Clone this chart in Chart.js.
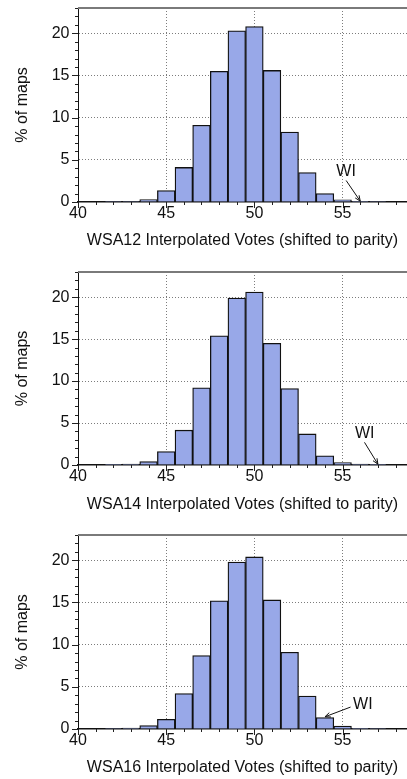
<!DOCTYPE html>
<html>
<head>
<meta charset="utf-8">
<script src="https://cdn.jsdelivr.net/npm/chart.js@4/dist/chart.umd.min.js"></script>
<style>
html,body{margin:0;padding:0;background:#fff;overflow:hidden;width:407px;height:779px;}
.p{position:absolute;left:0;width:407px;height:264px;}
</style>
</head>
<body>
<div class="p" style="top:0px"><canvas id="c1" width="407" height="264"></canvas></div>
<div class="p" style="top:264px"><canvas id="c2" width="407" height="264"></canvas></div>
<div class="p" style="top:527px"><canvas id="c3" width="407" height="264"></canvas></div>
<script>
// ---- data ----
const binCenters = [42, 43, 44, 45, 46, 47, 48, 49, 50, 51, 52, 53, 54, 55, 56, 57];
const wsa12 = [0.05, 0.05, 0.3, 1.35, 4.1, 9.1, 15.5, 20.3, 20.8, 15.6, 8.3, 3.5, 1.0, 0.25, 0.08, 0.05];
const wsa14 = [0.03, 0.1, 0.4, 1.6, 4.15, 9.2, 15.4, 19.9, 20.6, 14.5, 9.1, 3.7, 1.1, 0.3, 0.1, 0.03];
const wsa16 = [0.05, 0.1, 0.4, 1.15, 4.2, 8.7, 15.2, 19.8, 20.4, 15.3, 9.1, 3.9, 1.35, 0.35, 0.08, 0.05];
const xTickValues = [40, 45, 50, 55];
const yTickValues = [0, 5, 10, 15, 20];
const xTitles = [
  'WSA12 Interpolated Votes (shifted to parity)',
  'WSA14 Interpolated Votes (shifted to parity)',
  'WSA16 Interpolated Votes (shifted to parity)'
];
const yTitle = '% of maps';
const wiLabel = 'WI';
const wiTextAt = [[55.2, 3.6], [56.25, 3.7], [56.15, 2.85]];
const wiArrowFrom = [[55.2, 2.55], [56.24, 2.7], [55.45, 2.6]];
const wiArrowTo = [[56.0, 0.1], [57.0, 0.1], [54.0, 1.45]];

// ---- style / layout ----
const FONT = '"Liberation Sans", Arial, Helvetica, sans-serif';
const TXT = '#111';
const xAxisHeights = [62, 63, 62];

const decor = {
  id: 'decor',
  afterDraw(chart, args, opts) {
    const {ctx, chartArea: a, scales: {x, y}} = chart;
    ctx.save();
    // top frame line
    ctx.strokeStyle = '#7a7a7a';
    ctx.lineWidth = 2;
    ctx.beginPath();
    ctx.moveTo(a.left, a.top);
    ctx.lineTo(a.right, a.top);
    ctx.stroke();
    // major/minor ticks
    ctx.strokeStyle = '#222';
    ctx.lineWidth = 1;
    ctx.beginPath();
    for (let v = Math.ceil(x.min); v <= x.max; v += 1) {
      const px = Math.round(x.getPixelForValue(v)) + 0.5;
      const len = (v % 5 === 0) ? 6 : 3;
      ctx.moveTo(px, a.bottom);
      ctx.lineTo(px, a.bottom + len);
    }
    for (let v = 0; v <= y.max; v += 1) {
      const py = Math.round(y.getPixelForValue(v)) + 0.5;
      const len = (v % 5 === 0) ? 6 : 3;
      ctx.moveTo(a.left, py);
      ctx.lineTo(a.left - len, py);
    }
    ctx.stroke();
    // annotation
    const i = opts.idx;
    ctx.fillStyle = TXT;
    ctx.font = '16px ' + FONT;
    ctx.textAlign = 'center';
    ctx.textBaseline = 'middle';
    ctx.fillText(wiLabel, x.getPixelForValue(wiTextAt[i][0]), y.getPixelForValue(wiTextAt[i][1]));
    const x1 = x.getPixelForValue(wiArrowFrom[i][0]), y1 = y.getPixelForValue(wiArrowFrom[i][1]);
    const x2 = x.getPixelForValue(wiArrowTo[i][0]), y2 = y.getPixelForValue(wiArrowTo[i][1]);
    ctx.strokeStyle = '#111';
    ctx.lineWidth = 1;
    ctx.beginPath();
    ctx.moveTo(x1, y1);
    ctx.lineTo(x2, y2);
    ctx.stroke();
    const ang = Math.atan2(y2 - y1, x2 - x1);
    const hl = 6, hw = 0.4;
    ctx.beginPath();
    ctx.moveTo(x2, y2);
    ctx.lineTo(x2 - hl * Math.cos(ang - hw), y2 - hl * Math.sin(ang - hw));
    ctx.moveTo(x2, y2);
    ctx.lineTo(x2 - hl * Math.cos(ang + hw), y2 - hl * Math.sin(ang + hw));
    ctx.stroke();
    ctx.restore();
  }
};

function makeChart(id, values, idx) {
  const gridColor = c => (c.tick && c.tick.value !== 0 && c.tick.value !== 40) ? '#7c7c7c' : 'rgba(0,0,0,0)';
  return new Chart(document.getElementById(id), {
    type: 'bar',
    data: {
      datasets: [{
        data: binCenters.map((b, i) => ({x: b, y: values[i]})),
        backgroundColor: 'rgb(152,168,232)',
        borderColor: '#111',
        borderWidth: 1.3,
        barPercentage: 1,
        categoryPercentage: 1
      }]
    },
    plugins: [decor],
    options: {
      responsive: false,
      animation: false,
      devicePixelRatio: 1,
      layout: {padding: {top: 8, left: 0, right: 0, bottom: 0}},
      plugins: {legend: {display: false}, tooltip: {enabled: false}, decor: {idx: idx}},
      scales: {
        x: {
          type: 'linear', min: 40, max: 58.65, offset: false,
          afterBuildTicks: s => { s.ticks = xTickValues.map(v => ({value: v})); },
          ticks: {padding: 4, color: TXT, font: {family: FONT, size: 16, lineHeight: 1}, maxRotation: 0, autoSkip: false},
          grid: {drawTicks: false, offset: false, color: gridColor, lineWidth: 1},
          border: {display: true, color: '#111', width: 1.5, dash: [1, 2]},
          title: {display: true, text: xTitles[idx], color: TXT, font: {family: FONT, size: 16}, padding: {top: 0, bottom: 14}},
          afterFit: s => { s.height = xAxisHeights[idx]; s.paddingLeft = 0; s.paddingRight = 0; }
        },
        y: {
          min: 0, max: 23,
          afterBuildTicks: s => { s.ticks = yTickValues.map(v => ({value: v})); },
          ticks: {padding: 8.5, color: TXT, font: {family: FONT, size: 16}},
          grid: {drawTicks: false, color: gridColor, lineWidth: 1},
          border: {display: true, color: '#111', width: 1, dash: [1, 2]},
          title: {display: true, text: yTitle, color: TXT, font: {family: FONT, size: 16}, padding: {top: 13, bottom: 0}},
          afterFit: s => { s.width = 78; s.paddingTop = 0; s.paddingBottom = 0; }
        }
      }
    }
  });
}

makeChart('c1', wsa12, 0);
makeChart('c2', wsa14, 1);
makeChart('c3', wsa16, 2);
</script>
</body>
</html>
